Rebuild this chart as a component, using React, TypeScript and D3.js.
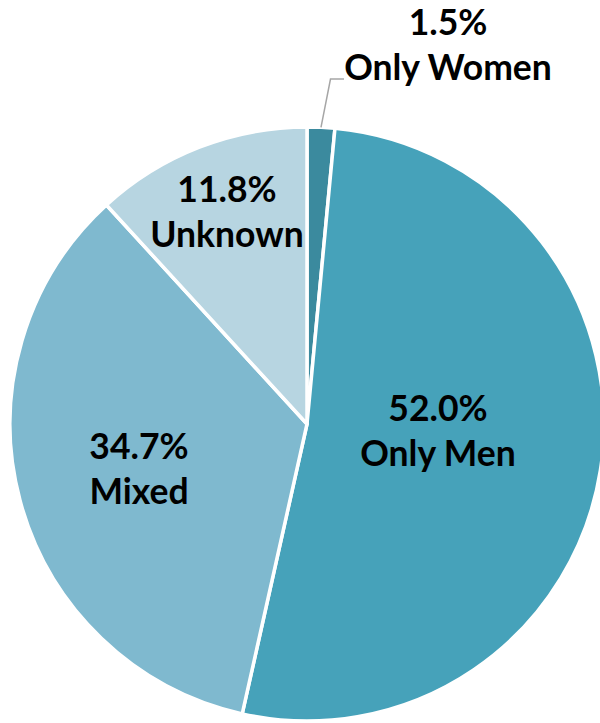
import { useEffect, useRef } from 'react';
import * as d3 from 'd3';

// Slice data, clockwise from 12 o'clock
const categories = ['Only Women', 'Only Men', 'Mixed', 'Unknown'];
const shares = [1.5, 52.0, 34.7, 11.8];
const colors = ['#3B8A9E', '#46A2BA', '#7FB9CF', '#B7D5E1'];

// Where each label block sits (centre x, first baseline y)
const labelLayout: Record<string, [number, number]> = {
  'Only Women': [448, 35],
  'Only Men': [438, 421],
  'Mixed': [139, 459],
  'Unknown': [227, 202],
};

const App = () => {
  const svgRef = useRef<SVGSVGElement | null>(null);

  useEffect(() => {
    const width = 600;
    const height = 723;
    const cx = 307;
    const cy = 424;
    const radius = 297;

    const svg = d3.select(svgRef.current)
      .attr('width', width)
      .attr('height', height)
      .attr('viewBox', [0, 0, width, height]);
    svg.selectAll('*').remove();

    const rows = categories.map((c, i) => ({ name: c, value: shares[i], color: colors[i] }));

    const pie = d3.pie<{ name: string; value: number; color: string }>()
      .value(d => d.value)
      .sort(null);
    const arc = d3.arc<d3.PieArcDatum<{ name: string; value: number; color: string }>>()
      .innerRadius(0)
      .outerRadius(radius);

    const g = svg.append('g').attr('transform', `translate(${cx},${cy})`);
    const arcs = pie(rows);

    g.selectAll('path')
      .data(arcs)
      .join('path')
      .attr('d', arc)
      .attr('fill', d => d.data.color)
      .attr('stroke', '#fff')
      .attr('stroke-width', 3.5)
      .attr('stroke-linejoin', 'round');

    // leader line for the small slice
    const small = arcs[0];
    const mid = (small.startAngle + small.endAngle) / 2;
    const sx = cx + radius * Math.sin(mid);
    const sy = cy - radius * Math.cos(mid);
    svg.append('polyline')
      .attr('points', `${sx},${sy} ${sx + 9.5},${79} ${344},${79}`)
      .attr('fill', 'none')
      .attr('stroke', '#A6A6A6')
      .attr('stroke-width', 1.5);

    // labels
    arcs.forEach(a => {
      const [lx, ly] = labelLayout[a.data.name];
      const t = svg.append('text')
        .attr('text-anchor', 'middle')
        .attr('font-family', 'Lato, sans-serif')
        .attr('font-weight', 700)
        .attr('font-size', 35.5)
        .attr('fill', '#000');
      t.append('tspan').attr('x', lx).attr('y', ly).text(`${a.data.value.toFixed(1)}%`);
      t.append('tspan').attr('x', lx).attr('y', ly + 45).text(a.data.name);
    });
  }, []);

  return (
    <svg ref={svgRef} style={{ position: 'absolute', left: 0, top: 0, display: 'block' }}></svg>
  );
};

export default App;
